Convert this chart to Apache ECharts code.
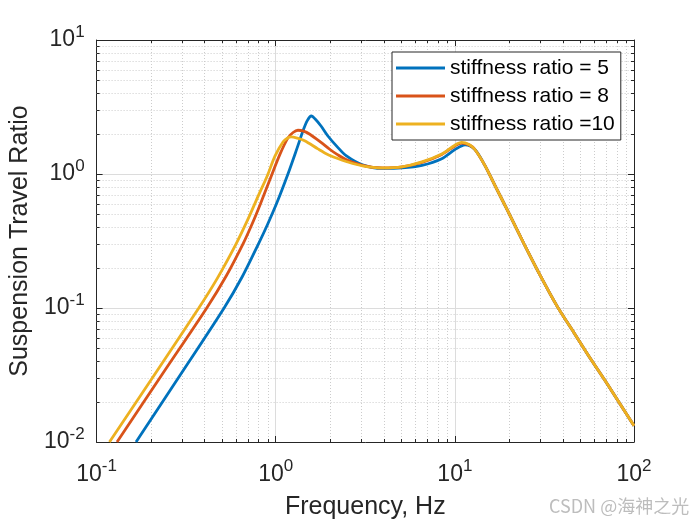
<!DOCTYPE html>
<html><head><meta charset="utf-8">
<script src="https://cdn.jsdelivr.net/npm/echarts@6/dist/echarts.min.js"></script>
<style>html,body{margin:0;padding:0;background:#fff}#c{width:700px;height:525px}</style>
</head><body><div id="c"></div>
<script>
const seriesNames = ['stiffness ratio = 5', 'stiffness ratio = 8', 'stiffness ratio =10'];
const seriesColors = ['#0072BD', '#D95319', '#EDB120'];

const freq5 = [0.166, 0.293, 0.515, 0.65, 0.80, 0.90, 1.02, 1.17, 1.32, 1.42, 1.50, 1.58, 1.67, 1.79, 1.95, 2.2, 2.47, 3.05, 3.93, 5.07, 6.55, 8.45, 10.0, 11.4, 12.9];
const val5  = [0.010, 0.0316, 0.100, 0.171, 0.30, 0.42, 0.62, 1.00, 1.58, 2.10, 2.50, 2.71, 2.55, 2.28, 1.93, 1.60, 1.37, 1.17, 1.10, 1.11, 1.16, 1.30, 1.52, 1.65, 1.53];

const freq8 = [0.130, 0.231, 0.412, 0.53, 0.66, 0.74, 0.82, 0.94, 1.055, 1.17, 1.25, 1.33, 1.43, 1.55, 1.79, 2.0, 2.2, 2.47, 3.05, 3.93, 5.07, 6.55, 8.45, 10.0, 10.9, 12.0, 12.9];
const val8  = [0.010, 0.0316, 0.100, 0.174, 0.305, 0.427, 0.595, 0.95, 1.40, 1.86, 2.04, 2.12, 2.09, 1.98, 1.72, 1.53, 1.40, 1.28, 1.16, 1.11, 1.13, 1.22, 1.40, 1.62, 1.70, 1.65, 1.53];

const freq10 = [0.118, 0.21, 0.372, 0.47, 0.60, 0.70, 0.80, 0.90, 0.99, 1.10, 1.16, 1.22, 1.32, 1.45, 1.72, 1.95, 2.2, 2.47, 3.05, 3.93, 5.07, 6.55, 8.45, 10.0, 10.9, 12.0, 12.9];
const val10  = [0.010, 0.0316, 0.100, 0.165, 0.30, 0.46, 0.69, 0.98, 1.36, 1.74, 1.85, 1.89, 1.85, 1.77, 1.54, 1.40, 1.31, 1.24, 1.15, 1.11, 1.13, 1.23, 1.41, 1.64, 1.72, 1.66, 1.53];

// shared high-frequency descent (all three curves coincide)
const tailFreq = [14.7, 16.7, 19.8, 24.4, 30.3, 37.4, 46.3, 57.2, 70.8, 100];
const tailVal  = [1.16, 0.826, 0.526, 0.299, 0.170, 0.102, 0.0652, 0.0418, 0.0272, 0.0132];

const xTicks = [0.1, 1, 10, 100];
const xTickExp = ['-1', '0', '1', '2'];
const yTicks = [0.01, 0.1, 1, 10];
const yTickExp = ['-2', '-1', '0', '1'];
const xMinor = [0.2,0.3,0.4,0.5,0.6,0.7,0.8,0.9, 2,3,4,5,6,7,8,9, 20,30,40,50,60,70,80,90];
const yMinor = [0.02,0.03,0.04,0.05,0.06,0.07,0.08,0.09, 0.2,0.3,0.4,0.5,0.6,0.7,0.8,0.9, 2,3,4,5,6,7,8,9];

const xName = 'Frequency, Hz';
const yName = 'Suspension Travel Ratio';
const watermark = 'CSDN @海神之光';

const FONT = '"Liberation Sans", Arial, Helvetica, sans-serif';
const AX = '#262626';

function pairs(f, v) { return f.map((x, i) => [x, v[i]]); }
function expLabel(ticks, exps, v) {
  const i = ticks.findIndex(t => Math.abs(Math.log10(t) - Math.log10(v)) < 1e-6);
  return i < 0 ? '' : '{b|10}{s|' + exps[i] + '}';
}
const rich = {
  b: { fontSize: 23, fontFamily: FONT, color: AX, padding: [5, 0, 5, 0] },
  s: { fontSize: 17, fontFamily: FONT, color: AX, verticalAlign: 'top' }
};

function minorX(params, api) {
  const cs = params.coordSys;
  const x = Math.round(api.coord([api.value(0), 1])[0]) + 0.5;
  const top = cs.y, bot = cs.y + cs.height;
  return { type: 'group', children: [
    { type: 'line', shape: { x1: x, y1: top, x2: x, y2: bot }, style: { stroke: '#cccccc', lineWidth: 1, lineDash: [1, 2] } },
    { type: 'line', shape: { x1: x, y1: bot, x2: x, y2: bot - 3 }, style: { stroke: AX, lineWidth: 1 } },
    { type: 'line', shape: { x1: x, y1: top, x2: x, y2: top + 3 }, style: { stroke: AX, lineWidth: 1 } }
  ]};
}
function minorY(params, api) {
  const cs = params.coordSys;
  const y = Math.round(api.coord([1, api.value(1)])[1]) + 0.5;
  const l = cs.x, r = cs.x + cs.width;
  return { type: 'group', children: [
    { type: 'line', shape: { x1: l, y1: y, x2: r, y2: y }, style: { stroke: '#cccccc', lineWidth: 1, lineDash: [1, 2] } },
    { type: 'line', shape: { x1: l, y1: y, x2: l + 3, y2: y }, style: { stroke: AX, lineWidth: 1 } },
    { type: 'line', shape: { x1: r, y1: y, x2: r - 3, y2: y }, style: { stroke: AX, lineWidth: 1 } }
  ]};
}

const chart = echarts.init(document.getElementById('c'), null, { renderer: 'canvas' });
const logX = { type: 'log', logBase: 10, min: 0.1, max: 100 };
const logY = { type: 'log', logBase: 10, min: 0.01, max: 10 };
const lineData = [pairs(freq5.concat(tailFreq), val5.concat(tailVal)),
                  pairs(freq8.concat(tailFreq), val8.concat(tailVal)),
                  pairs(freq10.concat(tailFreq), val10.concat(tailVal))];

chart.setOption({
  animation: false,
  backgroundColor: '#fff',
  grid: { left: 92, right: 66, top: 40, bottom: 78, containLabel: false },
  xAxis: [
    Object.assign({}, logX, {
      position: 'bottom',
      name: xName, nameLocation: 'middle', nameGap: 53,
      nameTextStyle: { fontSize: 25, fontFamily: FONT, color: AX },
      axisLine: { show: true, onZero: false, lineStyle: { color: AX, width: 1 } },
      axisTick: { show: true, inside: true, length: 6, lineStyle: { color: AX } },
      axisLabel: { margin: 16, formatter: v => expLabel(xTicks, xTickExp, v), rich: rich },
      splitLine: { show: true, lineStyle: { color: '#dcdcdc', width: 1 } },
      minorTick: { show: false }, minorSplitLine: { show: false }
    }),
    Object.assign({}, logX, {
      position: 'top',
      axisLine: { show: true, onZero: false, lineStyle: { color: AX, width: 1 } },
      axisTick: { show: true, inside: true, length: 6, lineStyle: { color: AX } },
      axisLabel: { show: false }, splitLine: { show: false }
    })
  ],
  yAxis: [
    Object.assign({}, logY, {
      position: 'left',
      name: yName, nameLocation: 'middle', nameGap: 56,
      nameTextStyle: { fontSize: 25, fontFamily: FONT, color: AX },
      axisLine: { show: true, onZero: false, lineStyle: { color: AX, width: 1 } },
      axisTick: { show: true, inside: true, length: 6, lineStyle: { color: AX } },
      axisLabel: { margin: 12, formatter: v => expLabel(yTicks, yTickExp, v), rich: rich },
      splitLine: { show: true, lineStyle: { color: '#dcdcdc', width: 1 } },
      minorTick: { show: false }, minorSplitLine: { show: false }
    }),
    Object.assign({}, logY, {
      position: 'right',
      axisLine: { show: true, onZero: false, lineStyle: { color: AX, width: 1 } },
      axisTick: { show: true, inside: true, length: 6, lineStyle: { color: AX } },
      axisLabel: { show: false }, splitLine: { show: false }
    })
  ],
  legend: {
    data: seriesNames, orient: 'vertical', left: 392, top: 52,
    backgroundColor: '#fff', borderColor: AX, borderWidth: 1, borderRadius: 0,
    padding: [4, 6, 4, 4], itemGap: 4, itemWidth: 49, itemHeight: 3, icon: 'rect',
    selectedMode: false,
    textStyle: { fontSize: 21, fontFamily: FONT, color: '#000', lineHeight: 24 }
  },
  graphic: [{
    type: 'text', left: 549, top: 497, silent: true,
    style: { text: watermark, fontSize: 18, fontFamily: '"Noto Sans CJK SC", sans-serif', fill: '#bdbdbd' }
  }],
  series: [
    { type: 'custom', silent: true, z: 1, renderItem: minorX, data: xMinor.map(v => [v, 1]), encode: { x: 0, y: 1 } },
    { type: 'custom', silent: true, z: 1, renderItem: minorY, data: yMinor.map(v => [1, v]), encode: { x: 0, y: 1 } }
  ].concat(seriesNames.map((n, i) => ({
    name: n, type: 'line', data: lineData[i], smooth: 0.3, showSymbol: false, symbol: 'none',
    z: 3, lineStyle: { width: 2.8, color: seriesColors[i] }, itemStyle: { color: seriesColors[i] }
  })))
});
</script></body></html>
